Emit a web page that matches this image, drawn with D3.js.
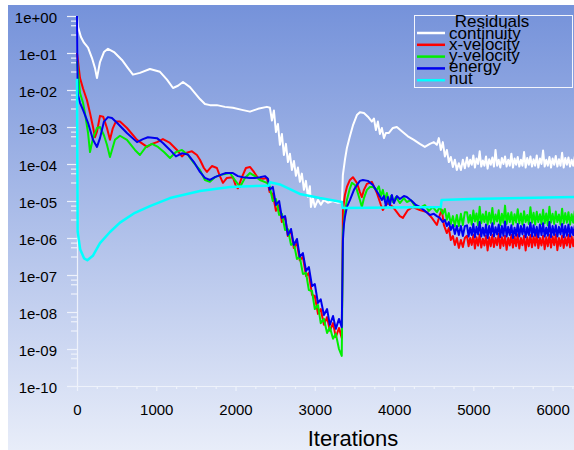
<!DOCTYPE html>
<html>
<head>
<meta charset="utf-8">
<script src="https://cdn.jsdelivr.net/npm/d3@7"></script>
<style>
  body { margin: 0; background: #fff; }
  svg { display: block; }
  text { font-family: "Liberation Sans", Arial, sans-serif; }
</style>
</head>
<body>
<svg id="chart" width="574" height="450"></svg>
<script>
// residual history: [iteration, residual]
const continuity = [
  [0, 1.0], [13, 0.5], [50, 0.27], [88, 0.19], [139, 0.14], [189, 0.073], [227, 0.039], [252, 0.021],
  [290, 0.057], [340, 0.106], [391, 0.13], [467, 0.106], [567, 0.065], [643, 0.039], [706, 0.026],
  [794, 0.029], [920, 0.037], [1047, 0.031], [1135, 0.019], [1211, 0.0113], [1274, 0.013], [1337, 0.0165],
  [1425, 0.012], [1551, 0.0057], [1614, 0.0042], [1677, 0.0039], [1765, 0.0039], [1866, 0.0035],
  [1967, 0.0033], [2081, 0.0029], [2182, 0.0026], [2283, 0.0031], [2396, 0.0035], [2434, 0.0033],
  [2459, 0.0015], [2484, 0.0028], [2510, 7.3e-4], [2535, 1.2e-3], [2560, 3.3e-4], [2585, 6.5e-4],
  [2610, 1.75e-4], [2636, 3.5e-4], [2661, 1.13e-4], [2686, 1.9e-4], [2711, 6.9e-5], [2737, 1.2e-4],
  [2762, 4.8e-5], [2787, 8e-5], [2812, 3.3e-5], [2837, 5.5e-5], [2863, 2e-5], [2888, 3.5e-5],
  [2913, 1.3e-5], [2938, 2.5e-5], [2951, 6.9e-6], [2976, 1.2e-5], [3001, 6.9e-6], [3039, 1.07e-5],
  [3077, 8e-6], [3115, 1.07e-5], [3165, 9e-6], [3228, 1e-5], [3291, 9e-6], [3342, 9.4e-6],
  [3354, 5e-5], [3380, 1.3e-4], [3405, 2.7e-4], [3443, 5.6e-4], [3481, 1.1e-3], [3531, 2.1e-3],
  [3569, 2.5e-3], [3620, 2.4e-3], [3670, 1.9e-3], [3720, 1.4e-3], [3746, 1.7e-3], [3771, 8.3e-4],
  [3796, 1.4e-3], [3821, 6.5e-4], [3846, 9.4e-4], [3872, 5e-4], [3897, 6.9e-4], [3935, 6.9e-4],
  [3985, 9.4e-4], [4035, 1e-3], [4098, 7.7e-4], [4174, 5.6e-4], [4250, 4.5e-4], [4325, 3.5e-4],
  [4388, 2.9e-4], [4452, 3.5e-4], [4502, 3.9e-4], [4540, 3.3e-4], [4565, 5e-4], [4590, 2.4e-4],
  [4615, 3.9e-4], [4641, 1.6e-4], [4666, 2.4e-4], [4691, 1.13e-4], [4716, 1.55e-4], [4742, 8.3e-5],
  [4767, 1.3e-4], [4792, 6.9e-5], [4817, 1.05e-4], [4843, 6.9e-5], [4868, 1.3e-4], [4893, 7.7e-5]
];

const xVelEarly = [
  [0, 0.1], [38, 2.1e-2], [76, 1.1e-2], [126, 5.3e-3], [164, 2.4e-3], [202, 1e-3], [227, 5.3e-4],
  [252, 7.5e-4], [290, 2e-3], [330, 1.9e-3], [378, 9.4e-4], [416, 4.5e-4], [450, 9e-4], [490, 1.4e-3],
  [542, 1.4e-3], [630, 9.4e-4], [757, 4.5e-4], [883, 2.9e-4], [946, 3.5e-4], [1009, 3.9e-4],
  [1084, 4.7e-4], [1173, 3.7e-4], [1261, 2.4e-4], [1324, 1.6e-4], [1374, 2e-4], [1450, 2.2e-4],
  [1513, 1.75e-4], [1551, 1.3e-4], [1601, 7.8e-5], [1639, 6.1e-5], [1702, 8.8e-5], [1765, 7.8e-5],
  [1803, 4.7e-5], [1841, 3.1e-5], [1891, 4.2e-5], [1967, 4.4e-5], [2005, 2.5e-5], [2030, 2.2e-5],
  [2081, 4.4e-5], [2131, 7.8e-5], [2182, 8.3e-5], [2232, 6.1e-5], [2283, 4.2e-5], [2346, 4e-5],
  [2396, 4.2e-5]
];
const yVelEarly = [
  [0, 6e-2], [38, 8.3e-3], [76, 4.5e-3], [100, 2.4e-3], [139, 7e-4], [164, 2.1e-4], [202, 5e-4],
  [252, 9.4e-4], [290, 1e-3], [340, 6e-4], [378, 3.3e-4], [416, 1.55e-4], [479, 4.5e-4], [542, 5.8e-4],
  [630, 4.5e-4], [731, 2.4e-4], [794, 1.75e-4], [870, 2.9e-4], [946, 3.5e-4], [1022, 2.9e-4],
  [1097, 2.1e-4], [1173, 1.45e-4], [1248, 2.1e-4], [1324, 2.4e-4], [1400, 1.75e-4], [1475, 1.06e-4],
  [1551, 6.9e-5], [1614, 3.7e-5], [1677, 3.3e-5], [1740, 4.4e-5], [1803, 5e-5], [1929, 5.7e-5],
  [1992, 3.7e-5], [2056, 2.4e-5], [2119, 4.2e-5], [2182, 5.7e-5], [2245, 4.7e-5], [2308, 3.7e-5],
  [2396, 3.1e-5]
];
const energyEarly = [
  [0, 1.0], [8, 1e-2], [13, 7.3e-3], [38, 4.5e-3], [76, 2.9e-3], [139, 1.3e-3], [202, 4.5e-4],
  [252, 2.9e-4], [290, 5e-4], [340, 1.4e-3], [391, 1.85e-3], [441, 1.75e-3], [504, 1.3e-3],
  [630, 6.9e-4], [757, 3.9e-4], [832, 4.7e-4], [895, 5.3e-4], [1009, 5e-4], [1084, 3.7e-4],
  [1173, 2.4e-4], [1248, 1.6e-4], [1324, 1.95e-4], [1400, 1.8e-4], [1475, 1.13e-4], [1551, 6.1e-5],
  [1614, 4.2e-5], [1677, 3.7e-5], [1740, 4.4e-5], [1803, 5e-5], [1879, 5.7e-5], [1967, 5.7e-5],
  [2030, 4.7e-5], [2093, 4.4e-5], [2182, 4.2e-5], [2245, 4.2e-5], [2308, 4.4e-5], [2371, 4.7e-5],
  [2409, 4e-5]
];

// steep noisy fall between ~2400 and ~3350, same iterations for the three equations
const dropIters = [2430, 2470, 2510, 2550, 2585, 2625, 2660, 2700, 2735, 2775, 2810, 2850, 2890,
  2925, 2965, 3000, 3040, 3075, 3115, 3155, 3190, 3230, 3265, 3305, 3340];
const xVelDrop = [1.75e-5, 1.55e-5, 5.4e-6, 7.8e-6, 2.7e-6, 3.7e-6, 1.13e-6, 1.55e-6, 5.4e-7, 7.3e-7,
  2.5e-7, 3.1e-7, 9.4e-8, 1.13e-7, 2.9e-8, 2.7e-8, 8.9e-9, 1.2e-8, 4.5e-9, 7.3e-9, 3.1e-9, 5e-9,
  2.1e-9, 3.7e-9, 2e-9];
const yVelDrop = [2.5e-5, 1e-5, 1.13e-5, 4.2e-6, 4.5e-6, 1.65e-6, 1.75e-6, 6.5e-7, 7.3e-7, 2.7e-7,
  3.1e-7, 1.07e-7, 1.13e-7, 3.9e-8, 3.7e-8, 1.2e-8, 1.55e-8, 5e-9, 6.5e-9, 2.7e-9, 3.9e-9, 1.9e-9,
  2.6e-9, 1e-9, 6.5e-10];
const energyDrop = [2e-5, 2.4e-5, 7.8e-6, 1e-5, 3.5e-6, 3.9e-6, 1.2e-6, 1.75e-6, 6.5e-7, 9.4e-7,
  3.1e-7, 3.9e-7, 1.28e-7, 1.65e-7, 5e-8, 5.7e-8, 1.75e-8, 2.2e-8, 8.3e-9, 1.2e-8, 4.5e-9, 7.8e-9,
  3.5e-9, 6.5e-9, 3.9e-9];

const xVelRecover = [
  [3355, 5.7e-6], [3380, 1.45e-5], [3405, 2.4e-5], [3443, 3.7e-5], [3481, 4.4e-5], [3531, 3.1e-5],
  [3569, 1.75e-5], [3594, 1.28e-5], [3620, 2e-5], [3657, 2.9e-5], [3720, 3.3e-5], [3783, 1.65e-5],
  [3834, 7.8e-6], [3859, 5.7e-6], [3897, 7.8e-6], [3922, 8.8e-6], [3985, 6.9e-6], [4035, 5e-6],
  [4073, 3.9e-6], [4111, 3.5e-6], [4174, 5.7e-6], [4237, 6.9e-6], [4325, 5.7e-6], [4414, 5e-6],
  [4477, 3.5e-6], [4540, 2.25e-6], [4577, 4.2e-6], [4603, 5.7e-6], [4628, 2.25e-6], [4666, 1.36e-6],
  [4691, 1.86e-6], [4716, 8.8e-7], [4742, 1.13e-6], [4767, 6.5e-7], [4792, 1e-6], [4817, 5.4e-7],
  [4843, 8.8e-7], [4868, 5.7e-7], [4893, 1e-6]
];
const yVelRecover = [
  [3355, 1.4e-6], [3380, 5e-6], [3405, 1.06e-5], [3443, 2.2e-5], [3468, 3.1e-5], [3506, 2.7e-5],
  [3531, 2e-5], [3569, 1.06e-5], [3594, 6.9e-6], [3620, 1.2e-5], [3657, 2e-5], [3695, 2.4e-5],
  [3733, 2.4e-5], [3783, 2e-5], [3808, 2.5e-5], [3834, 1.36e-5], [3859, 2e-5], [3884, 1.06e-5],
  [3909, 1.65e-5], [3935, 8.8e-6], [3960, 1.36e-5], [3985, 9.4e-6], [4023, 1.28e-5], [4073, 8.8e-6],
  [4124, 1.2e-5], [4161, 9.4e-6], [4212, 1.06e-5], [4262, 7.3e-6], [4325, 6.5e-6], [4388, 7.8e-6],
  [4439, 5.4e-6], [4489, 6.9e-6], [4540, 5e-6], [4577, 6.9e-6], [4615, 4.5e-6], [4641, 6.1e-6],
  [4666, 3.1e-6], [4691, 4.7e-6], [4716, 2.4e-6], [4742, 3.9e-6], [4767, 2.1e-6], [4792, 4.2e-6],
  [4817, 2.1e-6], [4843, 4.5e-6], [4868, 2.25e-6], [4893, 5e-6]
];
const energyRecover = [
  [3355, 8.8e-7], [3367, 2.25e-6], [3380, 3.7e-6], [3405, 6.9e-6], [3443, 1.06e-5], [3494, 2e-5],
  [3531, 2.7e-5], [3569, 3.5e-5], [3607, 3.7e-5], [3670, 3.5e-5], [3733, 2.7e-5], [3796, 1.65e-5],
  [3846, 1.06e-5], [3872, 1.36e-5], [3897, 7.3e-6], [3922, 1.28e-5], [3947, 7.8e-6], [3972, 1.45e-5],
  [3998, 8.8e-6], [4035, 1.36e-5], [4073, 1.13e-5], [4124, 1.36e-5], [4161, 1.28e-5], [4224, 1e-5],
  [4275, 7.8e-6], [4325, 6.9e-6], [4388, 5.4e-6], [4452, 4.2e-6], [4502, 4.5e-6], [4540, 3.9e-6],
  [4577, 3.5e-6], [4615, 2.7e-6], [4641, 3.1e-6], [4666, 2.1e-6], [4691, 2.7e-6], [4716, 1.65e-6],
  [4742, 2.25e-6], [4767, 1.28e-6], [4792, 2.1e-6], [4817, 1.2e-6], [4843, 2.1e-6], [4868, 1.13e-6],
  [4893, 2.1e-6]
];

// noisy plateau at the end of the run
const tailIters = [4920, 4940, 4960, 4980, 5000, 5020, 5040, 5060, 5080, 5100, 5120, 5140, 5160,
  5180, 5200, 5220, 5240, 5260, 5280, 5300, 5320, 5340, 5360, 5380, 5400, 5420, 5440, 5460, 5480,
  5500, 5520, 5540, 5560, 5580, 5600, 5620, 5640, 5660, 5680, 5700, 5720, 5740, 5760, 5780, 5800,
  5820, 5840, 5860, 5880, 5900, 5920, 5940, 5960, 5980, 6000, 6020, 6040, 6060, 6080, 6100, 6120,
  6140, 6160, 6180, 6200, 6220, 6240, 6260, 6280];
const continuityTail = [
  1.5e-4, 8.5e-5, 1.3e-4, 9.5e-5, 1.7e-4, 8e-5, 1.4e-4, 1e-4, 2.2e-4, 8.5e-5,
  1.25e-4, 9e-5, 1.6e-4, 7.5e-5, 1.35e-4, 9.5e-5, 1.5e-4, 8.5e-5, 2.4e-4, 9e-5,
  1.3e-4, 8e-5, 1.45e-4, 1e-4, 1.6e-4, 8.5e-5, 1.3e-4, 9e-5, 1.9e-4, 8e-5,
  1.4e-4, 9.5e-5, 1.55e-4, 8.5e-5, 1.3e-4, 9e-5, 2.1e-4, 8e-5, 1.45e-4, 9.5e-5,
  1.6e-4, 8.5e-5, 1.35e-4, 9e-5, 1.7e-4, 8e-5, 1.4e-4, 1e-4, 2.3e-4, 8.5e-5,
  1.3e-4, 9e-5, 1.55e-4, 8e-5, 1.4e-4, 9.5e-5, 1.65e-4, 8.5e-5, 1.35e-4, 9e-5,
  2e-4, 8e-5, 1.45e-4, 9.5e-5, 1.5e-4, 8.5e-5, 1.3e-4, 9e-5, 1.6e-4];
const xVelTail = [
  1.15e-6, 6e-7, 1e-6, 6.5e-7, 1.2e-6, 5.2e-7, 1.05e-6, 6.2e-7, 1.25e-6, 5.5e-7,
  9.5e-7, 6.3e-7, 1.15e-6, 4.6e-7, 1.05e-6, 6e-7, 1.2e-6, 5.7e-7, 1e-6, 6.4e-7,
  1.3e-6, 5.3e-7, 1.05e-6, 6.1e-7, 1.15e-6, 4.8e-7, 1e-6, 6.3e-7, 1.2e-6, 5.5e-7,
  1.1e-6, 6e-7, 1.25e-6, 5.2e-7, 1e-6, 6.4e-7, 1.15e-6, 4.6e-7, 1.05e-6, 6e-7,
  1.2e-6, 5.6e-7, 1.1e-6, 6.2e-7, 1.3e-6, 5.3e-7, 1e-6, 6.3e-7, 1.15e-6, 5e-7,
  1.05e-6, 6e-7, 1.2e-6, 5.5e-7, 1.1e-6, 6.4e-7, 1.25e-6, 4.7e-7, 1e-6, 6.1e-7,
  1.15e-6, 5.4e-7, 1.05e-6, 6.2e-7, 1.2e-6, 5.6e-7, 1.1e-6, 6e-7, 1.15e-6];
const yVelTail = [
  5e-6, 2.6e-6, 4.2e-6, 2.3e-6, 5.5e-6, 2.8e-6, 4.6e-6, 2.2e-6, 7e-6, 2.5e-6,
  4.4e-6, 2.7e-6, 5.2e-6, 2.3e-6, 4.8e-6, 2.6e-6, 6.5e-6, 2.4e-6, 4.3e-6, 2.8e-6,
  5.6e-6, 2.2e-6, 4.5e-6, 2.6e-6, 7.5e-6, 2.4e-6, 4.7e-6, 2.7e-6, 5e-6, 2.3e-6,
  4.4e-6, 2.6e-6, 6e-6, 2.5e-6, 4.6e-6, 2.3e-6, 5.3e-6, 2.7e-6, 4.2e-6, 2.4e-6,
  6.8e-6, 2.6e-6, 4.8e-6, 2.3e-6, 5.1e-6, 2.7e-6, 4.4e-6, 2.4e-6, 5.8e-6, 2.5e-6,
  4.6e-6, 2.2e-6, 7e-6, 2.6e-6, 4.5e-6, 2.4e-6, 5.2e-6, 2.7e-6, 4.3e-6, 2.3e-6,
  6.2e-6, 2.5e-6, 4.7e-6, 2.6e-6, 5e-6, 2.3e-6, 4.4e-6, 2.6e-6, 5.5e-6];
const energyTail = [
  2.2e-6, 1.1e-6, 1.9e-6, 1.2e-6, 2.4e-6, 1.05e-6, 2e-6, 1.25e-6, 2.7e-6, 1.1e-6,
  1.9e-6, 1.15e-6, 2.3e-6, 1e-6, 2.1e-6, 1.2e-6, 2.5e-6, 1.1e-6, 1.95e-6, 1.25e-6,
  2.3e-6, 1.05e-6, 2.1e-6, 1.15e-6, 2.8e-6, 1.1e-6, 2e-6, 1.2e-6, 2.2e-6, 1e-6,
  1.9e-6, 1.15e-6, 2.4e-6, 1.1e-6, 2.1e-6, 1.25e-6, 2.3e-6, 1.05e-6, 1.95e-6, 1.2e-6,
  2.6e-6, 1.1e-6, 2.2e-6, 1.15e-6, 2e-6, 1.05e-6, 2.3e-6, 1.2e-6, 2.5e-6, 1.1e-6,
  1.9e-6, 1.15e-6, 2.7e-6, 1.05e-6, 2.1e-6, 1.2e-6, 2.2e-6, 1.1e-6, 2e-6, 1.25e-6,
  2.4e-6, 1.05e-6, 2.1e-6, 1.15e-6, 2.3e-6, 1.1e-6, 1.95e-6, 1.2e-6, 2.2e-6];

const nut = [
  [0, 2e-2], [8, 1.5e-6], [40, 5e-7], [90, 2.8e-7], [130, 2.5e-7], [200, 3.3e-7], [290, 7.3e-7],
  [416, 1.45e-6], [542, 2.6e-6], [731, 4.8e-6], [920, 7.3e-6], [1173, 1.2e-5], [1551, 1.86e-5],
  [1930, 2.4e-5], [2396, 2.6e-5], [2420, 2.6e-5], [2434, 3.2e-5], [2560, 2.8e-5], [2686, 2.1e-5],
  [2812, 1.55e-5], [3064, 1.2e-5], [3342, 9.4e-6], [3350, 6.5e-6], [4590, 6.9e-6], [4600, 1.07e-5],
  [4956, 1.14e-5], [6280, 1.28e-5]
];

const seriesNames = ["continuity", "x-velocity", "y-velocity", "energy", "nut"];
const seriesColors = ["#ffffff", "#ff0000", "#00ee00", "#0000ee", "#00ffff"];

const xTicks = [0, 1000, 2000, 3000, 4000, 5000, 6000];
const xTickLabels = ["0", "1000", "2000", "3000", "4000", "5000", "6000"];
const yTicks = [1, 1e-1, 1e-2, 1e-3, 1e-4, 1e-5, 1e-6, 1e-7, 1e-8, 1e-9, 1e-10];
const yTickLabels = ["1e+00", "1e-01", "1e-02", "1e-03", "1e-04", "1e-05", "1e-06", "1e-07",
  "1e-08", "1e-09", "1e-10"];

const zip = (iters, vals) => iters.map((it, i) => [it, vals[i]]);

const seriesData = [
  continuity.concat(zip(tailIters, continuityTail)),
  xVelEarly.concat(zip(dropIters, xVelDrop), xVelRecover, zip(tailIters, xVelTail)),
  yVelEarly.concat(zip(dropIters, yVelDrop), yVelRecover, zip(tailIters, yVelTail)),
  energyEarly.concat(zip(dropIters, energyDrop), energyRecover, zip(tailIters, energyTail)),
  nut
];

const svg = d3.select("#chart");

// background gradient
const defs = svg.append("defs");
const grad = defs.append("linearGradient")
  .attr("id", "bg")
  .attr("x1", 0).attr("y1", 0).attr("x2", 0).attr("y2", 1);
grad.append("stop").attr("offset", "0%").attr("stop-color", "#7592da");
grad.append("stop").attr("offset", "100%").attr("stop-color", "#e8edf9");

defs.append("clipPath").attr("id", "plotClip")
  .append("rect").attr("x", 70).attr("y", 0).attr("width", 504).attr("height", 390);

svg.append("rect")
  .attr("x", 8).attr("y", 5)
  .attr("width", 566).attr("height", 445)
  .attr("fill", "url(#bg)");

const x = d3.scaleLinear().domain([0, 6270]).range([77, 574]);
const y = d3.scaleLog().domain([1e-10, 1]).range([386, 16]);

const axisColor = "#eef2fb";

// minor ticks
const yMinor = [];
yTicks.slice(0, -1).forEach(t => {
  [0.125, 0.25, 0.5].forEach(f => yMinor.push(t * Math.pow(10, -f)));
});
const xMinor = d3.range(250, 6270, 250).filter(v => v % 1000 !== 0);

svg.append("g")
  .attr("transform", "translate(77,0)")
  .call(d3.axisLeft(y).tickValues(yMinor).tickFormat("").tickSize(6).tickSizeOuter(0))
  .call(g => g.select(".domain").remove());

svg.append("g")
  .attr("transform", "translate(0,386)")
  .call(d3.axisBottom(x).tickValues(xMinor).tickFormat("").tickSize(3).tickSizeOuter(0))
  .call(g => g.select(".domain").remove());

svg.append("g")
  .attr("class", "y-axis")
  .attr("transform", "translate(77,0)")
  .call(d3.axisLeft(y).tickValues(yTicks).tickFormat((d, i) => yTickLabels[i])
    .tickSize(10).tickSizeOuter(0).tickPadding(10));

svg.append("g")
  .attr("class", "x-axis")
  .attr("transform", "translate(0,386)")
  .call(d3.axisBottom(x).tickValues(xTicks).tickFormat((d, i) => xTickLabels[i])
    .tickSize(5).tickSizeOuter(0).tickPadding(13));

svg.selectAll(".tick line").attr("stroke", axisColor).attr("stroke-width", 1.2);
svg.selectAll(".domain").attr("stroke", axisColor).attr("stroke-width", 1.2);
svg.selectAll(".tick text")
  .attr("fill", "#000")
  .style("font-size", "15px")
  .style("font-family", "'Liberation Sans', Arial, sans-serif");
svg.selectAll(".y-axis .tick text").attr("dy", "0.4em");

// residual lines
const line = d3.line().x(d => x(d[0])).y(d => y(d[1]));

svg.append("g")
  .attr("clip-path", "url(#plotClip)")
  .selectAll("path")
  .data(seriesData)
  .enter()
  .append("path")
  .attr("d", d => line(d))
  .attr("fill", "none")
  .attr("stroke", (d, i) => seriesColors[i])
  .attr("stroke-width", (d, i) => i === 4 ? 2.5 : 2)
  .attr("stroke-linejoin", "round");

// axis title
svg.append("text")
  .attr("x", 353).attr("y", 446)
  .attr("text-anchor", "middle")
  .style("font-size", "22px")
  .text("Iterations");

// legend
const legend = svg.append("g");
legend.append("rect")
  .attr("x", 414.5).attr("y", 15.5)
  .attr("width", 158).attr("height", 72)
  .attr("fill", "none")
  .attr("stroke", "#f4f6fc")
  .attr("stroke-width", 1);

legend.append("text")
  .attr("x", 492).attr("y", 27)
  .attr("text-anchor", "middle")
  .style("font-size", "17px")
  .text("Residuals");

const items = legend.selectAll(".legend-item")
  .data(seriesNames)
  .enter()
  .append("g")
  .attr("class", "legend-item");

items.append("line")
  .attr("x1", 417).attr("x2", 445)
  .attr("y1", (d, i) => 33 + i * 11.8)
  .attr("y2", (d, i) => 33 + i * 11.8)
  .attr("stroke", (d, i) => seriesColors[i])
  .attr("stroke-width", 2.5);

items.append("text")
  .attr("x", 449)
  .attr("y", (d, i) => 38.5 + i * 11.3)
  .style("font-size", "17px")
  .text(d => d);
</script>
</body>
</html>
